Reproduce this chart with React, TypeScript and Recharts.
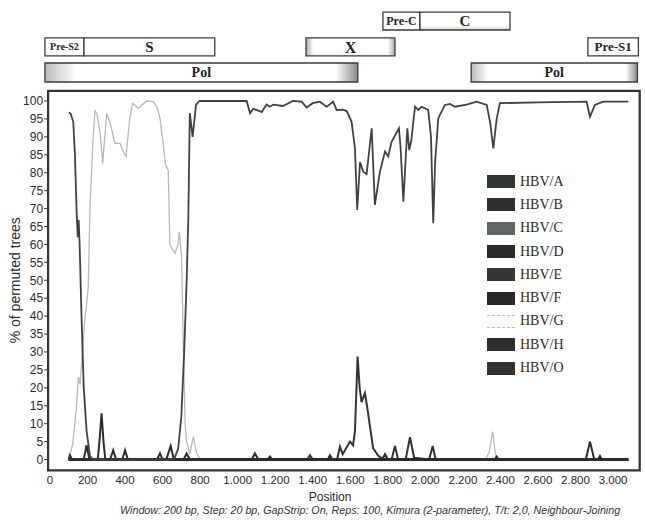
import { Line, LineChart, ReferenceArea, XAxis, YAxis } from 'recharts'

type Pt = [number, number]

const xTicks = [0, 200, 400, 600, 800, 1000, 1200, 1400, 1600, 1800, 2000, 2200, 2400, 2600, 2800, 3000]
const yTicks = [0, 5, 10, 15, 20, 25, 30, 35, 40, 45, 50, 55, 60, 65, 70, 75, 80, 85, 90, 95, 100]

// genome map boxes (bp), row 0 = top
const geneNames = ['Pre-S2', 'S', 'X', 'Pre-C', 'C', 'Pre-S1', 'Pol', 'Pol']
const geneStart = [-27, 181, 1364, 1774, 1971, 2866, -27, 2244]
const geneEnd = [181, 878, 1838, 1971, 2451, 3135, 1640, 3130]
const geneRow = [1, 1, 1, 0, 0, 1, 2, 2]

const hbvA: Pt[] = [
  [100, 96.8], [110, 96.5], [124, 94.2], [133, 85], [142, 69], [148, 62], [153, 66.8], [158, 60],
  [168, 40], [180, 20], [195, 8], [213, 1], [230, 0], [660, 0], [683, 3], [700, 12], [715, 30],
  [728, 49.6], [737, 67], [745, 96.6], [760, 90], [778, 98.9], [796, 100], [1048, 100], [1066, 96.6],
  [1083, 97.8], [1101, 97.5], [1128, 96.9], [1154, 99], [1172, 98.4], [1190, 99], [1241, 98.6],
  [1295, 100], [1341, 99.8], [1367, 98.2], [1400, 99.4], [1438, 99.8], [1474, 98.4], [1509, 99.8],
  [1527, 97.5], [1560, 97.6], [1581, 97.2], [1607, 94.2], [1625, 86.8], [1637, 69.6], [1652, 83],
  [1669, 80.3], [1687, 79.6], [1714, 92.4], [1731, 71], [1758, 80.3], [1785, 85.9], [1802, 84.5],
  [1820, 88.6], [1859, 92.4], [1868, 87], [1883, 71.9], [1904, 92.4], [1914, 86.3], [1925, 89],
  [1945, 98.4], [1962, 97.5], [1980, 98.4], [2015, 97.5], [2030, 90], [2042, 65.9], [2052, 83],
  [2069, 95.2], [2104, 98.9], [2131, 99.2], [2158, 98.4], [2220, 99], [2273, 99.8], [2327, 98.9],
  [2345, 94], [2362, 86.8], [2380, 95], [2397, 99.4], [2600, 99.6], [2859, 99.8], [2877, 95.6],
  [2903, 98.9], [2948, 99.8], [3081, 99.8],
]
const hbvB: Pt[] = [[100, 0], [255, 0], [265, 6], [275, 12.9], [285, 5], [295, 0], [320, 0], [337, 2.6], [352, 0], [385, 0], [400, 2.6], [415, 0], [3081, 0]]
const hbvC: Pt[] = [
  [100, 0], [1370, 0], [1385, 1.2], [1400, 0], [1530, 0], [1545, 3.6], [1560, 1.5], [1598, 5], [1615, 4],
  [1625, 8], [1639, 28.7], [1650, 20], [1660, 16], [1678, 18.5], [1690, 14.7], [1705, 9.2], [1722, 3.1],
  [1750, 1], [1780, 0], [1820, 0], [1838, 3.8], [1855, 0], [1895, 0], [1918, 6.2], [1940, 0.5], [2020, 0],
  [2039, 3.8], [2055, 0], [3081, 0],
]
const hbvD: Pt[] = [[100, 0], [180, 0], [195, 4], [210, 0], [620, 0], [643, 3.8], [660, 0], [3081, 0]]
const hbvE: Pt[] = [[100, 0], [570, 0], [586, 1.7], [600, 0], [1075, 0], [1092, 1.7], [1110, 0], [2855, 0], [2877, 5], [2900, 0], [3081, 0]]
const hbvF: Pt[] = [[100, 0], [106, 1.2], [118, 0], [712, 0], [728, 1.7], [745, 0], [1160, 0], [1172, 0.8], [1185, 0], [3081, 0]]
const hbvG: Pt[] = [
  [100, 0], [120, 4], [140, 14], [151, 23], [160, 21], [170, 28], [186, 39], [204, 48], [213, 70],
  [228, 88], [240, 97.5], [252, 96], [266, 91.4], [281, 82.6], [302, 96.6], [320, 94], [346, 88.2],
  [373, 88.2], [390, 86], [405, 84.5], [425, 95], [440, 99.4], [470, 98], [515, 100], [551, 99.8],
  [570, 98.4], [586, 95.2], [604, 87.7], [616, 82.1], [630, 80.7], [639, 59.8], [666, 57.5], [682, 60],
  [689, 63.5], [701, 57], [710, 33], [720, 10], [728, 5], [745, 1.5], [764, 6.4], [780, 2], [800, 0],
  [2320, 0], [2340, 2], [2358, 7.8], [2375, 1], [2390, 0], [3081, 0],
]
const hbvH: Pt[] = [[100, 0], [1480, 0], [1492, 1.2], [1505, 0], [1770, 0], [1785, 1.5], [1800, 0], [3081, 0]]
const hbvO: Pt[] = [[100, 0], [2370, 0], [2380, 0.8], [2390, 0], [2920, 0], [2930, 1], [2940, 0], [3081, 0]]

const toRows = (pts: Pt[]) => pts.map(([pos, v]) => ({ pos, v }))

const series = [
  { name: 'HBV/A', pts: hbvA, color: '#3c4441', width: 1.8, swatch: '#2f3532' },
  { name: 'HBV/B', pts: hbvB, color: '#2b2b2b', width: 2, swatch: '#303030' },
  { name: 'HBV/C', pts: hbvC, color: '#2f3331', width: 2, swatch: '#5e6865' },
  { name: 'HBV/D', pts: hbvD, color: '#2b2b2b', width: 2, swatch: '#2a2a2a' },
  { name: 'HBV/E', pts: hbvE, color: '#2b2b2b', width: 2, swatch: '#353535' },
  { name: 'HBV/F', pts: hbvF, color: '#2b2b2b', width: 2, swatch: '#282828' },
  { name: 'HBV/G', pts: hbvG, color: '#b8b8b8', width: 1.3, swatch: '#fafafa' },
  { name: 'HBV/H', pts: hbvH, color: '#2b2b2b', width: 2, swatch: '#2d2d2d' },
  { name: 'HBV/O', pts: hbvO, color: '#2b2b2b', width: 2, swatch: '#333333' },
]
// draw G underneath, A on top
const drawOrder = ['HBV/G', 'HBV/B', 'HBV/C', 'HBV/D', 'HBV/E', 'HBV/F', 'HBV/H', 'HBV/O', 'HBV/A']

const rowBand: Pt[] = [[119.8, 124.8], [112.6, 117.6], [105.3, 110.6]]
const geneFont: Record<string, number> = { 'Pre-S2': 10, S: 15, X: 16, 'Pre-C': 12, C: 15, 'Pre-S1': 13, Pol: 14 }
const geneFill: Record<string, string> = { X: 'url(#gEnds)', Pol: 'url(#gPol)', C: 'url(#gSoft)' }

const fmtPos = (v: number) => (v >= 1000 ? `${Math.floor(v / 1000)}.${String(v % 1000).padStart(3, '0')}` : String(v))

function LegendBox() {
  return <div style={{ position: 'absolute', left: 487, top: 170, fontFamily: '"Liberation Serif", serif', fontSize: 14, color: '#2a2a2a' }}>
    {series.map((s) => <div key={s.name} style={{ height: 23.3, display: 'flex', alignItems: 'center' }}>
      <span style={{
        width: 28, height: 13, marginRight: 5, boxSizing: 'border-box', background: s.swatch,
        borderTop: s.name === 'HBV/G' ? '1px dashed #bbb' : 'none', borderBottom: s.name === 'HBV/G' ? '1px dashed #bbb' : 'none',
      }} />
      <span>{s.name}</span>
    </div>)}
  </div>
}

export default function App() {
  return <div style={{ position: 'absolute', left: 0, top: 0, width: 645, height: 520, background: '#fff' }}>
    <LineChart width={645} height={520} margin={{ top: 0.6, right: 5.3, bottom: 0, left: 8.1 }}>
      <defs>
        <linearGradient id="gEnds" x1="0" y1="0" x2="1" y2="0">
          <stop offset="0%" stopColor="#aaa" /><stop offset="8%" stopColor="#fff" /><stop offset="92%" stopColor="#fff" /><stop offset="100%" stopColor="#aaa" />
        </linearGradient>
        <linearGradient id="gPol" x1="0" y1="0" x2="1" y2="0">
          <stop offset="0%" stopColor="#bbb" /><stop offset="10%" stopColor="#fff" /><stop offset="93%" stopColor="#fff" /><stop offset="100%" stopColor="#888" />
        </linearGradient>
        <linearGradient id="gSoft" x1="0" y1="0" x2="0" y2="1">
          <stop offset="0%" stopColor="#fff" /><stop offset="75%" stopColor="#fff" /><stop offset="100%" stopColor="#ccc" />
        </linearGradient>
      </defs>
      <XAxis dataKey="pos" type="number" domain={[-10, 3142]} allowDataOverflow ticks={xTicks} tickFormatter={fmtPos}
        axisLine={false} tickLine={false} tickSize={6} tickMargin={0} height={49.7} interval={0}
        tick={{ fontSize: 11.5, fill: '#2a2a2a', fontFamily: '"Liberation Sans", Arial, sans-serif' }}
        label={{
          content: (props: any) => {
            const vb = props.viewBox
            return <g fontFamily='"Liberation Sans", Arial, sans-serif' fill="#2a2a2a" textAnchor="middle">
              <text x={vb.x + 282} y={vb.y + 31} fontSize={12}>Position</text>
              <text x={vb.x + 322} y={vb.y + 44} fontSize={10} fontStyle="italic" fill="#333" textLength={500} lengthAdjust="spacingAndGlyphs">Window: 200 bp, Step: 20 bp, GapStrip: On, Reps: 100, Kimura (2-parameter), T/t: 2,0, Neighbour-Joining</text>
            </g>
          },
        }} />
      <YAxis type="number" domain={[-3, 128]} allowDataOverflow ticks={yTicks} width={40} axisLine={false}
        tickLine={{ stroke: '#333' }} tickSize={4} tickMargin={1} interval={0}
        tick={{ fontSize: 12, fill: '#2a2a2a', fontFamily: '"Liberation Sans", Arial, sans-serif' }}
        label={{
          content: (props: any) => {
            const vb = props.viewBox
            const cy = vb.y + (vb.height * (128 - 50)) / 131
            return <text x={15} y={cy} transform={`rotate(-90 15 ${cy})`} textAnchor="middle" dominantBaseline="central"
              fontSize={14} fill="#2a2a2a" fontFamily='"Liberation Sans", Arial, sans-serif'>% of permuted trees</text>
          },
        }} />
      <ReferenceArea x1={-10} x2={3142} y1={-3} y2={102.8} fill="none" stroke="#333" strokeWidth={2.2} ifOverflow="visible" />
      {geneNames.map((g, i) => <ReferenceArea key={`${g}-${i}`} x1={geneStart[i]} x2={geneEnd[i]}
        y1={rowBand[geneRow[i]][0]} y2={rowBand[geneRow[i]][1]} ifOverflow="visible"
        fill={geneFill[g] ?? '#fff'} fillOpacity={1} stroke="#3a3a3a" strokeWidth={1.3}
        label={{ value: g, position: 'center', fontSize: geneFont[g], fontWeight: 700, fill: '#222', fontFamily: '"Liberation Serif", serif' }} />)}
      {drawOrder.map((n) => {
        const s = series.find((x) => x.name === n)!
        return <Line key={n} name={n} data={toRows(s.pts)} dataKey="v" type="linear" stroke={s.color} strokeWidth={s.width}
          dot={false} activeDot={false} isAnimationActive={false} />
      })}
    </LineChart>
    <LegendBox />
  </div>
}
